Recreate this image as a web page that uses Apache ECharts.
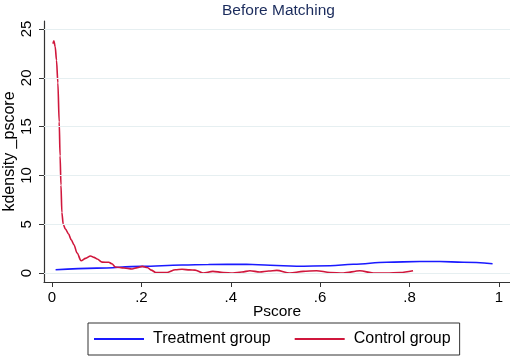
<!DOCTYPE html>
<html>
<head>
<meta charset="utf-8">
<script src="https://cdn.jsdelivr.net/npm/echarts@6/dist/echarts.min.js"></script>
<style>
  html, body { margin: 0; padding: 0; background: #fff; }
  #chart { width: 510px; height: 360px; }
</style>
</head>
<body>
<div id="chart"></div>
<script>
// values
var treatX = [0.008, 0.1, 0.2, 0.291, 0.35, 0.435, 0.488, 0.547, 0.622, 0.674, 0.749, 0.823, 0.868, 0.92, 0.986];
var treatY = [0.34, 0.5, 0.68, 0.82, 0.88, 0.9, 0.8, 0.7, 0.74, 0.9, 1.1, 1.18, 1.18, 1.1, 0.95];

var ctrlX = [0.002, 0.004, 0.007, 0.010, 0.013, 0.016, 0.018, 0.020, 0.022, 0.025, 0.030, 0.037, 0.043, 0.049,
  0.056, 0.065, 0.075, 0.086, 0.094, 0.101, 0.112, 0.127, 0.134, 0.142, 0.161, 0.179, 0.191, 0.202, 0.213,
  0.222, 0.232, 0.245, 0.258, 0.276, 0.291, 0.308, 0.32, 0.338, 0.36, 0.383, 0.405, 0.425, 0.443, 0.465,
  0.485, 0.503, 0.532, 0.562, 0.592, 0.622, 0.652, 0.689, 0.719, 0.749, 0.779, 0.808];
var ctrlY = [23.5, 23.8, 23.2, 21.8, 19.5, 15.5, 12, 9, 6.2, 5.0, 4.5, 4.0, 3.4, 2.9,
  2.05, 1.26, 1.5, 1.75, 1.6, 1.43, 1.12, 1.1, 0.95, 0.61, 0.51, 0.41, 0.55, 0.68, 0.57,
  0.3, 0.06, 0.04, 0.06, 0.34, 0.38, 0.32, 0.3, 0.0, 0.17, 0.06, 0.0, 0.1, 0.24, 0.1,
  0.2, 0.27, 0.0, 0.17, 0.24, 0.06, 0.0, 0.24, 0.0, 0.0, 0.06, 0.24];

var xTicks = [0, 0.2, 0.4, 0.6, 0.8, 1];
var yTicks = [0, 5, 10, 15, 20, 25];

var font = 'Liberation Sans, Arial, sans-serif';

function pairs(xs, ys) {
    var out = [];
    for (var i = 0; i < xs.length; i++) {
        out.push([xs[i], ys[i]]);
    }
    return out;
}

var myChart = echarts.init(document.getElementById('chart'));

var option = {
    animation: false,
    backgroundColor: '#fff',
    title: {
        text: 'Before Matching',
        left: 217,
        top: -2,
        textStyle: { fontFamily: font, fontSize: 15.5, fontWeight: 'normal', color: '#1a2b5c' }
    },
    legend: {
        left: 88,
        top: 323,
        padding: [8, 9, 8, 6],
        borderColor: '#333',
        borderWidth: 1,
        itemWidth: 50,
        itemHeight: 2,
        itemGap: 24,
        icon: 'rect',
        data: ['Treatment group', 'Control group'],
        textStyle: { fontFamily: font, fontSize: 16, color: '#000', padding: [0, 0, 0, 4] }
    },
    grid: { left: 44, right: 0, top: 21, bottom: 78, containLabel: false, outerBoundsMode: 'none' },
    xAxis: {
        type: 'value',
        min: -0.018,
        max: 1.025,
        name: 'Pscore',
        nameLocation: 'middle',
        nameGap: 22,
        nameMoveOverlap: false,
        nameTextStyle: { fontFamily: font, fontSize: 15.5, color: '#000' },
        axisLine: { onZero: false, lineStyle: { color: '#333', width: 1.2 } },
        axisTick: { customValues: xTicks, length: 5, lineStyle: { color: '#333' } },
        axisLabel: {
            customValues: xTicks,
            margin: 8,
            fontFamily: font, fontSize: 15, color: '#000',
            formatter: function (v) {
                return (v === 0 || v === 1) ? String(v) : String(v).replace(/^0/, '');
            }
        },
        splitLine: { show: false }
    },
    yAxis: {
        type: 'value',
        min: -0.92,
        max: 25.82,
        name: 'kdensity _pscore',
        nameLocation: 'middle',
        nameGap: 26,
        nameMoveOverlap: false,
        nameTextStyle: { fontFamily: font, fontSize: 16, color: '#000' },
        axisLine: { show: true, onZero: false, lineStyle: { color: '#333', width: 1.2 } },
        axisTick: { show: true, customValues: yTicks, length: 5, lineStyle: { color: '#333' } },
        axisLabel: {
            customValues: yTicks, rotate: 90, margin: 10,
            fontFamily: font, fontSize: 15, color: '#000'
        },
        splitLine: { show: false }
    },
    series: [
        {
            // horizontal grid lines
            type: 'line',
            data: [],
            silent: true,
            z: 1,
            markLine: {
                silent: true,
                symbol: 'none',
                label: { show: false },
                lineStyle: { color: '#e6eff1', width: 1, type: 'solid' },
                data: yTicks.map(function (v) { return { yAxis: v }; })
            }
        },
        {
            name: 'Treatment group',
            type: 'line',
            z: 3,
            showSymbol: false,
            smooth: 0.4,
            smoothMonotone: 'x',
            lineStyle: { color: '#1a1aff', width: 1.6 },
            itemStyle: { color: '#1a1aff' },
            data: pairs(treatX, treatY)
        },
        {
            name: 'Control group',
            type: 'line',
            z: 4,
            showSymbol: false,
            smooth: 0.3,
            smoothMonotone: 'x',
            lineStyle: { color: '#d0173c', width: 1.6 },
            itemStyle: { color: '#d0173c' },
            data: pairs(ctrlX, ctrlY)
        }
    ]
};

myChart.setOption(option);
</script>
</body>
</html>
